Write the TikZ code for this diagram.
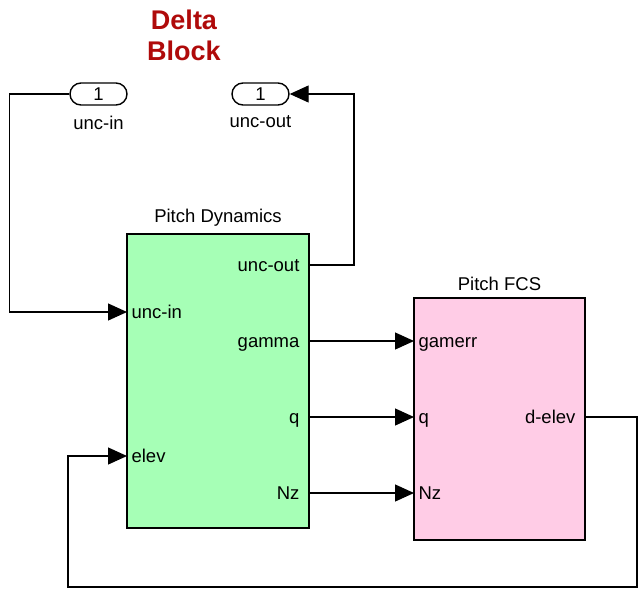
\documentclass[tikz,border=0pt]{standalone}
\usepackage{fontspec}
\setmainfont{Liberation Sans}
\usepackage{xcolor}
\usetikzlibrary{arrows.meta,positioning}
\definecolor{dynfill}{HTML}{A6FFB6}
\definecolor{fcsfill}{HTML}{FFCCE6}
\definecolor{ttlred}{HTML}{AF0A0A}

\begin{document}
\begin{tikzpicture}[x=1pt,y=-1pt,
  font=\fontsize{18.5}{22}\selectfont, >={Triangle[length=19pt,width=17pt]},
  line width=1.2pt,
  blk/.style={draw,line width=1.6pt,inner sep=0pt},
  io/.style={draw,line width=1.4pt,rounded corners=11pt,minimum width=57pt,minimum height=22pt,inner sep=0pt},
  pin/.style={anchor=base west,inner sep=0pt,xshift=4pt,yshift=-6.5pt},
  pout/.style={anchor=base east,inner sep=0pt,xshift=-9pt,yshift=-6.5pt}]
\useasboundingbox (0,0) rectangle (642,590);
% title
\node[font=\fontsize{27}{31}\selectfont\bfseries,text=ttlred,align=center] (ttl) at (184,35) {Delta\\Block};
% in/out ports of the delta block
\node[io] (in1) at (98.5,94) {1};
\node[below=6pt of in1] (in1lab) {unc-in};
\node[io] (out1) at (260.5,94) {1};
\node[below=6pt of out1] (out1lab) {unc-out};
% blocks
\node[blk,fill=dynfill,minimum width=182pt,minimum height=294pt] (pd) at (218,381) {};
\node[above=3pt of pd] (pdlab) {Pitch Dynamics};
\node[blk,fill=fcsfill,minimum width=171pt,minimum height=242pt] (fcs) at (499.5,419) {};
\node[above=3pt of fcs] (fcslab) {Pitch FCS};
% ports
\coordinate (pdin1) at (127,312);
\coordinate (pdin2) at (127,456);
\coordinate (pdout1) at (309,265);
\coordinate (pdout2) at (309,341);
\coordinate (pdout3) at (309,417);
\coordinate (pdout4) at (309,493);
\coordinate (fcsin1) at (414,341);
\coordinate (fcsin2) at (414,417);
\coordinate (fcsin3) at (414,493);
\coordinate (fcsout1) at (585,417);
\node[pin] at (pdin1) {unc-in};
\node[pin] at (pdin2) {elev};
\node[pout] at (pdout1) {unc-out};
\node[pout] at (pdout2) {gamma};
\node[pout] at (pdout3) {q};
\node[pout] at (pdout4) {Nz};
\node[pin] at (fcsin1) {gamerr};
\node[pin] at (fcsin2) {q};
\node[pin] at (fcsin3) {Nz};
\node[pout] at (fcsout1) {d-elev};
% wires
\draw[->] (in1.west) -- ++(-60,0) |- (pdin1);
\draw[->] (pdout1) -- ++(45,0) |- (out1.east);
\foreach \x/\y in {pdout2/fcsin1,pdout3/fcsin2,pdout4/fcsin3} \draw[->] (\x)--(\y);
\draw[->] (fcsout1) -- ++(52,0) |- (68,587) |- (pdin2);
\end{tikzpicture}
\end{document}
